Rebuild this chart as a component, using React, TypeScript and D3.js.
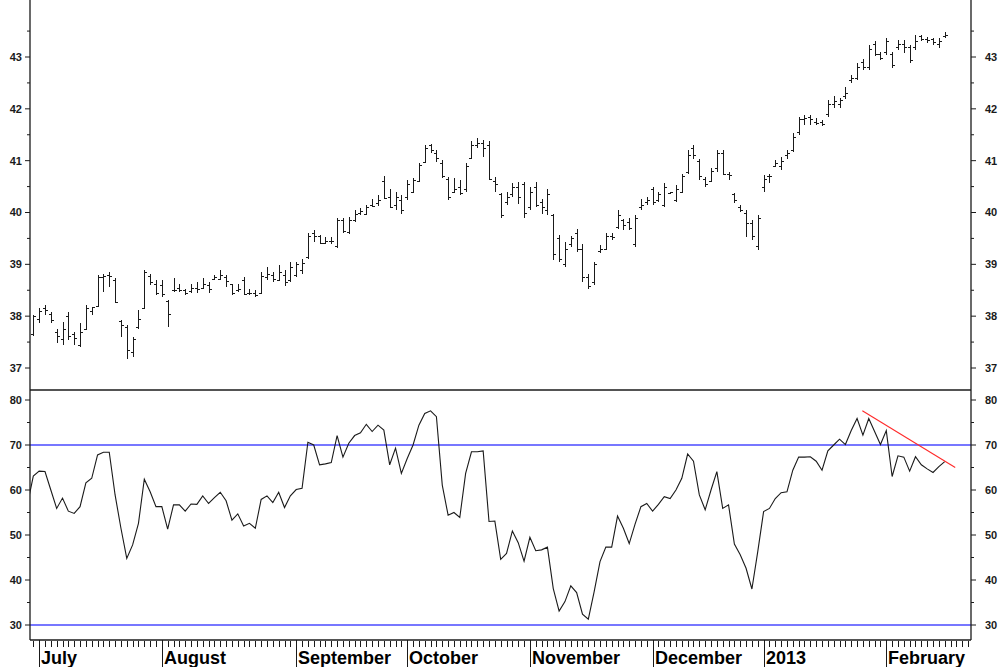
import React from "react";
import * as d3 from "d3";

// ---- Data (trading-day index 0 = first bar) ----
const high = [
  38.03, 38.15, 38.21, 38.08, 37.76, 37.89, 38.08, 37.70, 37.86, 38.21,
  38.18, 38.79, 38.82, 38.85, 38.73, 37.92, 37.83, 37.60, 38.12, 38.89,
  38.82, 38.69, 38.69, 38.31, 38.73, 38.63, 38.53, 38.63, 38.66, 38.73,
  38.66, 38.79, 38.89, 38.79, 38.63, 38.63, 38.76, 38.53, 38.50, 38.86,
  38.95, 38.86, 38.98, 38.89, 39.05, 39.05, 39.11, 39.60, 39.67, 39.56,
  39.53, 39.53, 39.89, 39.89, 39.92, 40.05, 40.08, 40.14, 40.27, 40.33,
  40.70, 40.46, 40.40, 40.33, 40.63, 40.66, 40.95, 41.30, 41.33, 41.20,
  41.01, 40.69, 40.66, 40.63, 40.95, 41.37, 41.43, 41.40, 41.37, 40.69,
  40.37, 40.40, 40.56, 40.59, 40.59, 40.50, 40.59, 40.27, 40.46, 39.98,
  39.56, 39.43, 39.54, 39.69, 39.40, 38.82, 39.05, 39.37, 39.60, 39.60,
  40.05, 39.87, 39.89, 39.95, 40.27, 40.30, 40.50, 40.40, 40.56, 40.40,
  40.53, 40.75, 41.20, 41.30, 41.04, 40.69, 40.85, 41.20, 41.20, 40.79,
  40.38, 40.14, 40.05, 39.85, 39.95, 40.72, 40.75, 41.01, 41.08, 41.20,
  41.53, 41.85, 41.88, 41.88, 41.82, 41.78, 42.17, 42.24, 42.20, 42.43,
  42.65, 42.88, 42.97, 43.23, 43.30, 43.10, 43.36, 43.10, 43.33, 43.33,
  43.23, 43.42, 43.42, 43.39, 43.36, 43.36, 43.49,
];
const low = [
  37.62, 37.86, 38.02, 37.86, 37.49, 37.44, 37.54, 37.44, 37.41, 37.73,
  38.02, 38.18, 38.47, 38.57, 38.25, 37.60, 37.18, 37.21, 37.76, 38.15,
  38.60, 38.40, 38.37, 37.80, 38.47, 38.47, 38.40, 38.44, 38.44, 38.53,
  38.44, 38.69, 38.69, 38.57, 38.40, 38.47, 38.40, 38.40, 38.37, 38.44,
  38.69, 38.66, 38.69, 38.58, 38.66, 38.76, 38.82, 39.11, 39.43, 39.40,
  39.40, 39.40, 39.31, 39.60, 39.58, 39.82, 39.95, 39.95, 40.11, 40.12,
  40.27, 40.08, 40.05, 39.98, 40.24, 40.37, 40.59, 40.95, 41.14, 40.98,
  40.66, 40.24, 40.37, 40.34, 40.40, 41.04, 41.24, 41.08, 40.63, 40.40,
  39.89, 40.14, 40.30, 40.17, 39.89, 40.05, 40.11, 39.98, 39.95, 39.08,
  39.05, 38.95, 39.34, 39.24, 38.66, 38.53, 38.60, 39.21, 39.27, 39.47,
  39.69, 39.67, 39.66, 39.34, 40.05, 40.14, 40.14, 40.21, 40.11, 40.37,
  40.21, 40.37, 40.75, 41.04, 40.63, 40.50, 40.59, 40.79, 40.72, 40.63,
  40.19, 40.01, 39.52, 39.47, 39.27, 40.40, 40.56, 40.88, 40.82, 41.04,
  41.17, 41.49, 41.69, 41.69, 41.69, 41.66, 41.85, 42.01, 42.01, 42.19,
  42.49, 42.56, 42.75, 42.75, 43.01, 42.94, 43.04, 42.78, 43.14, 43.07,
  42.88, 43.14, 43.30, 43.27, 43.23, 43.17, 43.36,
];
const open = [
  37.65, 37.95, 38.15, 38.05, 37.70, 37.55, 38.00, 37.65, 37.45, 37.75,
  38.10, 38.20, 38.75, 38.80, 38.70, 37.90, 37.80, 37.30, 37.80, 38.15,
  38.78, 38.62, 38.60, 38.30, 38.50, 38.55, 38.50, 38.48, 38.55, 38.55,
  38.60, 38.72, 38.72, 38.75, 38.62, 38.50, 38.70, 38.45, 38.45, 38.45,
  38.75, 38.80, 38.70, 38.80, 38.70, 38.80, 38.90, 39.15, 39.60, 39.55,
  39.42, 39.45, 39.35, 39.85, 39.62, 39.85, 40.00, 39.98, 40.15, 40.18,
  40.60, 40.30, 40.15, 40.25, 40.30, 40.40, 40.60, 40.98, 41.30, 41.15,
  40.95, 40.65, 40.40, 40.50, 40.45, 41.05, 41.30, 41.35, 41.30, 40.60,
  40.35, 40.20, 40.35, 40.50, 40.55, 40.10, 40.50, 40.20, 40.05, 39.95,
  39.50, 39.00, 39.40, 39.60, 39.30, 38.75, 38.65, 39.25, 39.30, 39.55,
  39.72, 39.85, 39.82, 39.40, 40.10, 40.20, 40.45, 40.25, 40.15, 40.38,
  40.25, 40.40, 40.78, 41.25, 41.00, 40.65, 40.60, 40.85, 41.15, 40.75,
  40.35, 40.10, 40.00, 39.80, 39.35, 40.50, 40.70, 40.90, 40.90, 41.10,
  41.20, 41.55, 41.80, 41.85, 41.75, 41.75, 41.90, 42.10, 42.10, 42.25,
  42.55, 42.60, 42.90, 42.80, 43.25, 43.05, 43.10, 43.05, 43.20, 43.25,
  43.20, 43.20, 43.40, 43.35, 43.35, 43.25, 43.40,
];
const close = [
  38.00, 38.10, 38.12, 37.92, 37.62, 37.75, 37.62, 37.58, 37.70, 38.15,
  38.18, 38.75, 38.78, 38.78, 38.28, 37.82, 37.35, 37.55, 37.95, 38.85,
  38.65, 38.45, 38.42, 38.05, 38.50, 38.50, 38.45, 38.55, 38.52, 38.62,
  38.52, 38.75, 38.80, 38.68, 38.45, 38.52, 38.42, 38.45, 38.40, 38.78,
  38.82, 38.72, 38.85, 38.65, 38.95, 39.00, 39.02, 39.55, 39.55, 39.42,
  39.45, 39.45, 39.85, 39.65, 39.85, 39.98, 40.02, 40.10, 40.12, 40.25,
  40.28, 40.10, 40.30, 40.05, 40.55, 40.62, 40.92, 41.25, 41.20, 41.05,
  40.70, 40.30, 40.45, 40.38, 40.90, 41.30, 41.35, 41.25, 40.65, 40.55,
  39.95, 40.30, 40.50, 40.30, 40.00, 40.40, 40.15, 40.10, 40.35, 39.20,
  39.10, 39.30, 39.50, 39.30, 38.75, 38.58, 39.00, 39.30, 39.55, 39.52,
  39.95, 39.75, 39.70, 39.90, 40.15, 40.25, 40.20, 40.35, 40.50, 40.40,
  40.45, 40.70, 41.10, 41.10, 40.70, 40.55, 40.80, 41.15, 40.75, 40.72,
  40.25, 40.05, 39.80, 39.55, 39.90, 40.65, 40.70, 40.95, 41.00, 41.15,
  41.45, 41.80, 41.82, 41.80, 41.72, 41.70, 42.10, 42.15, 42.18, 42.30,
  42.60, 42.80, 42.80, 43.15, 43.05, 42.98, 43.30, 42.85, 43.25, 43.20,
  42.95, 43.30, 43.35, 43.32, 43.28, 43.30, 43.42,
];

// RSI: rsiPrior is the day before bar 0 (clipped at the axis)
const rsiPrior = [56.8];
const rsi = [
  63.1, 64.2, 64.1, 60.0, 55.9, 58.2, 55.3, 54.8, 56.3, 61.6,
  62.6, 67.8, 68.4, 68.4, 58.9, 51.5, 44.8, 47.8, 52.6, 62.4,
  59.6, 56.3, 56.3, 51.3, 56.7, 56.7, 55.3, 56.9, 56.8, 58.7,
  57.0, 58.3, 59.5, 57.6, 53.3, 54.7, 52.0, 52.6, 51.5, 57.9,
  58.7, 57.2, 59.5, 56.1, 58.7, 60.1, 60.4, 70.6, 70.0, 65.6,
  65.8, 66.1, 72.1, 67.3, 70.4, 72.1, 72.7, 74.6, 73.0, 74.4,
  73.3, 65.6, 69.3, 63.7, 67.0, 70.0, 74.4, 77.0, 77.6, 76.3,
  61.1, 54.4, 55.0, 53.9, 63.7, 68.5, 68.5, 68.7, 53.0, 53.1,
  44.6, 45.9, 50.9, 48.3, 44.2, 49.5, 46.5, 46.7, 47.3, 38.1,
  33.1, 35.2, 38.7, 37.2, 32.4, 31.3, 37.4, 44.1, 47.3, 47.3,
  54.2, 51.5, 48.1, 52.4, 56.3, 57.0, 55.3, 56.8, 58.5, 58.1,
  60.0, 62.6, 68.0, 66.4, 58.9, 55.6, 60.0, 64.1, 55.9, 56.7,
  48.0, 45.6, 42.6, 38.0, 46.3, 55.2, 55.9, 58.1, 59.4, 59.6,
  64.4, 67.3, 67.3, 67.4, 66.4, 64.4, 68.7, 70.0, 71.3, 70.1,
  73.2, 75.9, 72.2, 75.9, 73.0, 70.1, 73.2, 63.0, 67.6, 67.3,
  64.2, 67.4, 65.6, 64.7, 63.9, 65.2, 66.3,
];

// Trend line on RSI (day index, value)
const trendIdx = [141.9, 157.8];
const trendVal = [77.6, 65.0];

// Month labels and first trading-day index of each month
const monthLabels = ["July", "August", "September", "October", "November", "December", "2013", "February"];
const monthStart = [1, 22, 45, 64, 85, 106, 125, 146];

const priceTicks = [37, 38, 39, 40, 41, 42, 43];
const rsiTicks = [30, 40, 50, 60, 70, 80];
const rsiLevels = [70, 30];

// ---- Layout ----
const W = 1000;
const H = 667;
const left = 30;
const right = 971;
const sepY = 390;
const axisY = 640;
const lastDay = 160.5;

const FONT = "'Liberation Sans', Arial, Helvetica, sans-serif";
const INK = "#1a1a1a";

export default function App() {
  const x = d3.scaleLinear().domain([-0.565, lastDay]).range([left, right]);
  const yP = d3.scaleLinear().domain([37, 43]).range([368, 57]);
  const yR = d3.scaleLinear().domain([30, 80]).range([625, 400]);

  const rsiAll = [...rsiPrior, ...rsi];
  const rsiLine = d3
    .line<number>()
    .x((_, k) => x(k - rsiPrior.length))
    .y((v) => yR(v))(rsiAll) as string;

  const dayTicks = d3.range(0, Math.floor(lastDay) + 1);
  const priceMinor = d3.range(36.5, 44, 1);
  const rsiMinor = d3.range(35, 85, 10);
  const clampP = (v: number, i: number) => Math.max(low[i], Math.min(high[i], v));

  return (
    <svg
      width={W}
      height={H}
      viewBox={`0 0 ${W} ${H}`}
      style={{ position: "absolute", left: 0, top: 0, background: "#fff" }}
    >
      <defs>
        <clipPath id="plotClip">
          <rect x={left} y={0} width={right - left} height={axisY} />
        </clipPath>
      </defs>
      <rect x={0} y={0} width={W} height={H} fill="#fff" />

      {/* OHLC bars */}
      <g stroke={INK} strokeWidth={1.2} shapeRendering="crispEdges">
        {high.map((h, i) => {
          const cx = Math.round(x(i)) + 0.5;
          const yo = Math.round(yP(clampP(open[i], i))) + 0.5;
          const yc = Math.round(yP(clampP(close[i], i))) + 0.5;
          return (
            <g key={i}>
              <line x1={cx} x2={cx} y1={yP(h)} y2={yP(low[i])} />
              <line x1={cx - 2.5} x2={cx} y1={yo} y2={yo} />
              <line x1={cx} x2={cx + 2.5} y1={yc} y2={yc} />
            </g>
          );
        })}
      </g>

      {/* RSI reference levels */}
      {rsiLevels.map((v) => (
        <line key={v} x1={left} x2={right} y1={yR(v)} y2={yR(v)} stroke="#4a4aff" strokeWidth={1.6} />
      ))}

      {/* RSI line */}
      <path d={rsiLine} fill="none" stroke={INK} strokeWidth={1.1} clipPath="url(#plotClip)" />

      {/* Trend line */}
      <line
        x1={x(trendIdx[0])}
        y1={yR(trendVal[0])}
        x2={x(trendIdx[1])}
        y2={yR(trendVal[1])}
        stroke="#ff2a2a"
        strokeWidth={1.1}
      />

      {/* Frame */}
      <g stroke={INK} strokeWidth={1.3} fill="none">
        <line x1={left} x2={left} y1={0} y2={axisY} />
        <line x1={right} x2={right} y1={0} y2={axisY} />
        <line x1={left} x2={right} y1={sepY} y2={sepY} />
        <line x1={left} x2={right} y1={axisY} y2={axisY} />
      </g>

      {/* Price axis ticks & labels */}
      <g stroke={INK} strokeWidth={1}>
        {priceTicks.map((t) => (
          <g key={t}>
            <line x1={left - 5} x2={left} y1={yP(t)} y2={yP(t)} />
            <line x1={right} x2={right + 5} y1={yP(t)} y2={yP(t)} />
          </g>
        ))}
        {priceMinor.map((t) =>
          yP(t) > 2 && yP(t) < sepY - 2 ? (
            <g key={t}>
              <line x1={left - 3} x2={left} y1={yP(t)} y2={yP(t)} />
              <line x1={right} x2={right + 3} y1={yP(t)} y2={yP(t)} />
            </g>
          ) : null
        )}
        {rsiTicks.map((t) => (
          <g key={t}>
            <line x1={left - 5} x2={left} y1={yR(t)} y2={yR(t)} />
            <line x1={right} x2={right + 5} y1={yR(t)} y2={yR(t)} />
          </g>
        ))}
        {rsiMinor.map((t) => (
          <g key={t}>
            <line x1={left - 3} x2={left} y1={yR(t)} y2={yR(t)} />
            <line x1={right} x2={right + 3} y1={yR(t)} y2={yR(t)} />
          </g>
        ))}
      </g>
      <g fontFamily={FONT} fontWeight="bold" fontSize={11} fill={INK}>
        {priceTicks.map((t) => (
          <g key={t}>
            <text x={left - 8} y={yP(t)} dy="0.36em" textAnchor="end">{t}</text>
            <text x={right + 14} y={yP(t)} dy="0.36em" textAnchor="start">{t}</text>
          </g>
        ))}
        {rsiTicks.map((t) => (
          <g key={t}>
            <text x={left - 8} y={yR(t)} dy="0.36em" textAnchor="end">{t}</text>
            <text x={right + 14} y={yR(t)} dy="0.36em" textAnchor="start">{t}</text>
          </g>
        ))}
      </g>

      {/* Day ticks */}
      <g stroke={INK} strokeWidth={1}>
        {dayTicks.map((d) => (
          <line key={d} x1={Math.round(x(d)) + 0.5} x2={Math.round(x(d)) + 0.5} y1={axisY + 1} y2={axisY + 7} />
        ))}
        {monthStart.map((d, k) => (
          <line key={k} x1={Math.round(x(d)) + 0.5} x2={Math.round(x(d)) + 0.5} y1={axisY} y2={H} />
        ))}
      </g>
      <g fontFamily={FONT} fontWeight="bold" fontSize={18} fill="#000">
        {monthLabels.map((m, k) => (
          <text key={m} x={Math.round(x(monthStart[k])) + 2} y={664}>{m}</text>
        ))}
      </g>
    </svg>
  );
}
